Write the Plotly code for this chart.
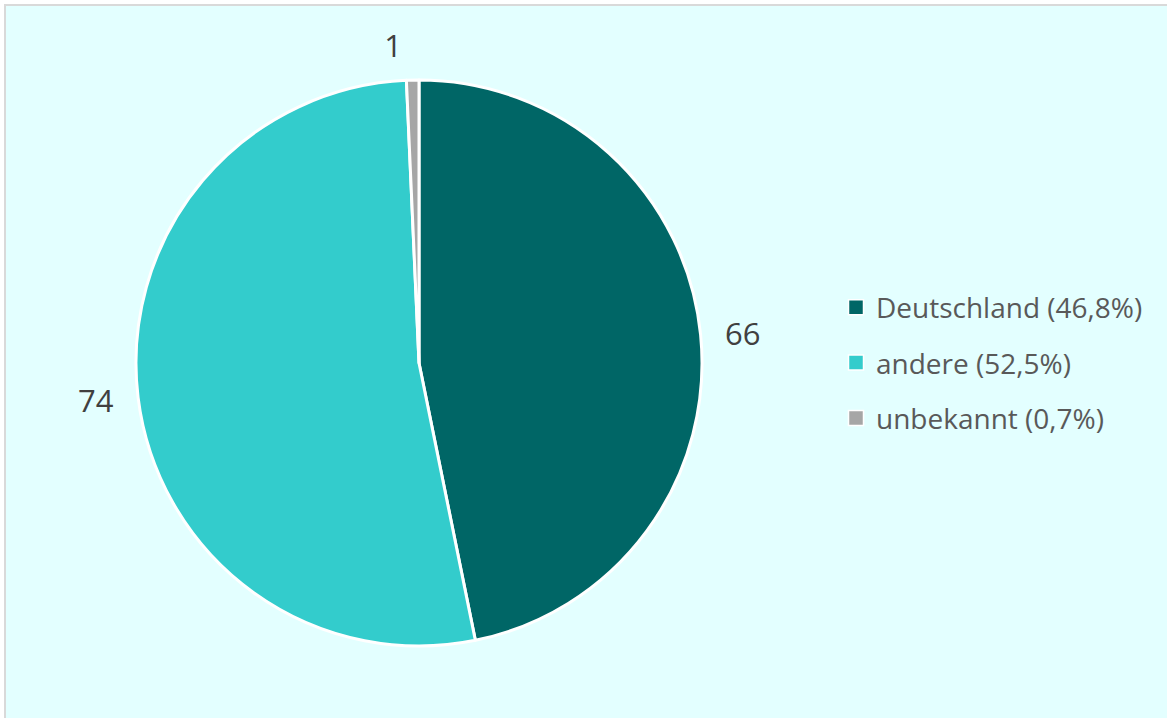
import plotly.graph_objects as go

categories = ["Deutschland", "andere", "unbekannt"]
values = [66, 74, 1]
colors = ["#006666", "#33CCCC", "#A6A6A6"]

total = sum(values)
legend_labels = [f"{c} ({v / total * 100:.1f}%)".replace(".", ",") for c, v in zip(categories, values)]

W, H = 1167, 718
cx, cy, r = 419, 363, 283
r_text = 297  # radius used for placing the outside value labels


def dom(rad):
    return dict(x=[(cx - rad) / W, (cx + rad) / W], y=[(H - cy - rad) / H, (H - cy + rad) / H])


fig = go.Figure()
# invisible pie carrying the value labels slightly further out
fig.add_trace(go.Pie(
    labels=categories, values=values, sort=False, direction="clockwise", rotation=0,
    marker=dict(colors=["rgba(0,0,0,0)"] * len(values), line=dict(width=0)),
    textinfo="value", textposition="outside",
    outsidetextfont=dict(size=31, color="#404040", family="Open Sans"),
    domain=dom(r_text), hoverinfo="skip", showlegend=False,
))
# visible pie
fig.add_trace(go.Pie(
    labels=categories, values=values, sort=False, direction="clockwise", rotation=0,
    marker=dict(colors=colors, line=dict(color="white", width=3)),
    textinfo="none", domain=dom(r), showlegend=False,
    hovertemplate="%{label}: %{value}<extra></extra>",
))
# legend entries
for c, lab, col in zip(categories, legend_labels, colors):
    fig.add_trace(go.Scatter(
        x=[None], y=[None], mode="markers", name=lab, legendgroup=c,
        marker=dict(symbol="square", size=15, color=col, line=dict(color="white", width=1.5)),
    ))

fig.add_shape(type="rect", xref="paper", yref="paper",
              x0=5 / W, x1=1.02, y0=-0.02, y1=1 - 5 / H,
              fillcolor="#E3FFFF", line=dict(color="#D9D9D9", width=2), layer="below")

fig.update_layout(
    width=W, height=H,
    margin=dict(l=0, r=0, t=0, b=0),
    paper_bgcolor="white",
    plot_bgcolor="rgba(0,0,0,0)",
    xaxis=dict(visible=False), yaxis=dict(visible=False),
    showlegend=True,
    legend=dict(x=836 / W, y=(H - 363) / H, xanchor="left", yanchor="middle",
                font=dict(size=28, color="#595959", family="Open Sans"),
                bgcolor="rgba(0,0,0,0)", tracegroupgap=16, itemclick=False),
)

fig.write_html("out.html")
